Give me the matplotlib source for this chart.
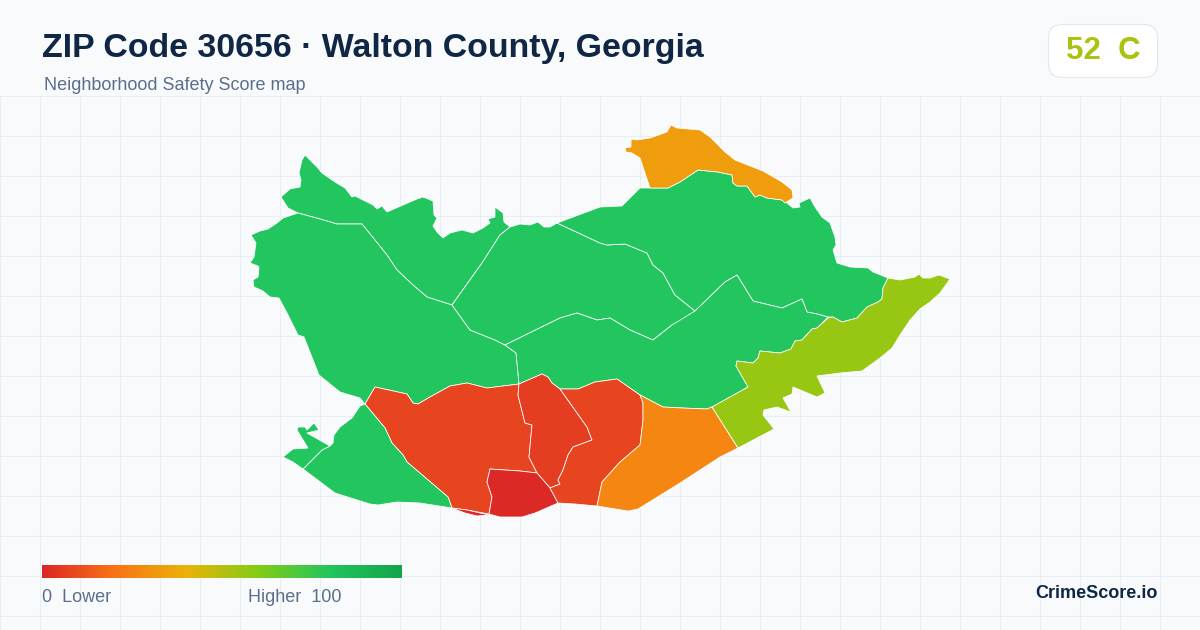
import matplotlib
matplotlib.use("Agg")
import matplotlib.pyplot as plt
import numpy as np
from matplotlib.colors import LinearSegmentedColormap
from matplotlib.patches import FancyBboxPatch, Polygon

plt.rcParams['font.family'] = ['Liberation Sans', 'DejaVu Sans']

TITLE = "ZIP Code 30656 · Walton County, Georgia"
SUBTITLE = "Neighborhood Safety Score map"
SCORE_TEXT = "52  C"
OVERALL_SCORE = 52
BRAND = "CrimeScore.io"
LEGEND_LOW = "0  Lower"
LEGEND_HIGH = "Higher  100"

SCALE_STOPS = [0.0, 0.2, 0.4, 0.6, 0.8, 1.0]
SCALE_COLORS = ["#dc2626", "#f97316", "#eab308", "#84cc16", "#22c55e", "#16a34a"]

# Tract outlines, with their scores
tract_a = [(281,197),(290,189),(300,187),(301,180),(299,173),(302,160),(305,155),(317,167),(322,173),(335,182),(345,188),(352,197),(355,196),(365,201),(373,205),(377,209),(382,206),(387,212),(403,205),(417,199),(423,197),(433,201),(434,215),(437,218),(433,226),(437,232),(443,238),(450,233),(462,230),(473,233),(483,228),(490,223),(488,219),(495,217),(495,207),(503,213),(504,222),(510,227),(500,235),(482,263),(452,305),(427,297),(413,285),(397,270),(387,255),(362,224),(337,224),(320,219),(298,213),(288,208)]
tract_b = [(298,213),(320,219),(337,224),(362,224),(387,255),(397,270),(413,285),(427,297),(452,305),(470,330),(495,340),(505,345),(516,353),(518,373),(519,384),(487,388),(467,383),(450,386),(430,397),(418,404),(413,403),(407,394),(375,387),(365,404),(360,398),(340,392),(319,375),(304,337),(298,335),(287,313),(279,298),(270,297),(263,291),(254,287),(253,280),(258,277),(259,268),(258,266),(250,263),(254,257),(256,243),(251,235),(260,231),(268,229),(277,223),(283,218)]
tract_c = [(452,305),(482,263),(500,235),(510,227),(520,224),(530,225),(538,222),(544,227),(550,227),(557,223),(600,243),(607,245),(625,244),(647,253),(653,265),(663,273),(675,295),(695,311),(690,317),(672,325),(653,340),(630,330),(610,318),(597,320),(577,313),(560,318),(505,345),(495,340),(470,330)]
tract_d = [(557,223),(600,207),(622,206),(640,188),(650,188),(668,188),(680,182),(698,170),(718,172),(732,175),(733,183),(737,186),(747,186),(755,197),(760,195),(767,198),(782,200),(787,203),(793,208),(800,207),(799,203),(810,198),(815,207),(822,217),(830,223),(835,237),(836,245),(833,250),(837,263),(850,267),(868,268),(873,272),(888,278),(883,288),(882,299),(878,302),(867,307),(857,318),(842,322),(833,317),(828,317),(817,314),(807,312),(802,299),(782,308),(753,301),(737,275),(725,282),(695,311),(675,295),(663,273),(653,265),(647,253),(625,244),(607,245),(600,243)]
tract_e = [(505,345),(560,318),(577,313),(597,320),(610,318),(630,330),(653,340),(672,325),(695,311),(725,282),(737,275),(753,301),(782,308),(802,299),(807,312),(817,314),(828,317),(817,328),(812,329),(802,340),(795,341),(791,349),(780,353),(760,351),(758,358),(753,363),(737,361),(736,366),(748,387),(712,407),(707,409),(682,408),(663,407),(640,395),(617,379),(595,382),(578,389),(560,389),(552,383),(548,377),(542,374),(519,384),(518,373),(516,353)]
tract_f = [(365,404),(375,387),(407,394),(413,403),(418,404),(430,397),(450,386),(467,383),(487,388),(519,384),(518,395),(525,423),(532,425),(529,457),(537,473),(520,471),(490,469),(487,482),(492,497),(489,514),(467,510),(452,508),(448,497),(407,462),(403,455),(392,443),(385,428)]
tract_g = [(519,384),(542,374),(548,377),(552,383),(560,389),(587,427),(592,440),(573,447),(568,455),(563,470),(558,480),(560,484),(550,488),(537,473),(529,457),(532,425),(525,423),(518,395)]
tract_h = [(490,469),(520,471),(537,473),(550,488),(558,503),(535,513),(522,517),(500,517),(489,514),(492,497),(487,482)]
tract_h2 = [(452,508),(467,510),(489,515),(477,516),(465,513)]
tract_i = [(560,389),(578,389),(595,382),(617,379),(640,395),(643,403),(643,420),(640,445),(620,462),(602,482),(597,506),(575,504),(558,503),(550,488),(560,484),(558,480),(563,470),(568,455),(573,447),(592,440),(587,427)]
tract_j = [(640,395),(663,407),(682,408),(707,409),(712,407),(738,448),(720,457),(680,483),(638,509),(628,511),(597,506),(602,482),(620,462),(640,445),(643,420),(643,403)]
tract_k = [(888,278),(900,280),(915,277),(919,274),(923,278),(930,278),(939,275),(950,279),(940,293),(930,302),(920,309),(910,320),(900,335),(892,348),(880,358),(862,371),(840,373),(817,376),(825,393),(817,397),(793,387),(792,394),(783,398),(791,412),(777,407),(764,410),(763,415),(774,429),(738,448),(712,407),(748,387),(736,366),(737,361),(753,363),(758,358),(760,351),(780,353),(791,349),(795,341),(802,340),(812,329),(817,328),(828,318),(833,317),(842,322),(857,318),(867,307),(878,302),(882,299),(883,288)]
tract_l = [(365,404),(385,428),(392,443),(403,455),(407,462),(448,497),(452,508),(420,503),(397,502),(378,505),(370,504),(335,493),(327,487),(303,469),(322,450),(330,446),(333,443),(334,435),(340,427),(352,418),(360,406)]
tract_m = [(283,457),(293,449),(308,448),(297,430),(298,427),(305,427),(307,430),(314,423),(319,430),(307,433),(330,446),(322,450),(303,469),(293,462)]
tract_n = [(625,148),(631,147),(631,139),(637,140),(650,138),(667,132),(671,125),(677,128),(700,130),(710,137),(725,152),(735,160),(763,171),(782,182),(792,190),(793,198),(785,203),(782,200),(767,198),(760,195),(755,197),(747,186),(737,186),(733,183),(732,175),(718,172),(698,170),(680,182),(668,188),(650,188),(640,158),(632,153),(626,152)]

tracts = [tract_a, tract_b, tract_c, tract_d, tract_e, tract_f, tract_g, tract_h,
          tract_h2, tract_i, tract_j, tract_k, tract_l, tract_m, tract_n]
scores = [80, 80, 80, 80, 80, 8, 6, 1, 1, 8, 26, 56, 80, 80, 33]

grid_x = list(range(0, 1200, 40))
grid_y = list(range(96, 630, 40))

BG = "#f8fafc"
GRID = "#e8eef5"
cmap = LinearSegmentedColormap.from_list("safety", list(zip(SCALE_STOPS, SCALE_COLORS)))

fig = plt.figure(figsize=(12, 6.3), dpi=100, facecolor=BG)
ax = fig.add_axes([0, 0, 1, 1])
ax.set_xlim(0, 1200)
ax.set_ylim(630, 0)
ax.axis("off")

for gx in grid_x:
    ax.plot([gx, gx], [96, 630], color=GRID, lw=0.75, zorder=1)
for gy in grid_y:
    ax.plot([0, 1200], [gy, gy], color=GRID, lw=0.75, zorder=1)

for outline, score in zip(tracts, scores):
    ax.add_patch(Polygon(outline, closed=True, facecolor=cmap(score / 100),
                         edgecolor="#ffffff", lw=0.55, joinstyle="round", zorder=2))

ax.imshow(np.linspace(0, 1, 512)[None, :], cmap=cmap, aspect="auto",
          extent=(42, 402, 578, 565), zorder=3)
ax.set_xlim(0, 1200)
ax.set_ylim(630, 0)

ax.text(42, 49, TITLE, fontsize=24.4, fontweight="bold", color="#0f2744", va="center", ha="left", zorder=4)
ax.text(44, 85.5, SUBTITLE, fontsize=12.95, color="#5a6f8c", va="center", ha="left", zorder=4)

ax.add_patch(FancyBboxPatch((1048.5 + 14, 24.5 + 14), 109 - 28, 53 - 28,
                            boxstyle="round,pad=14,rounding_size=14",
                            facecolor="#ffffff", edgecolor="#e2e8f0", lw=0.8, zorder=3))
ax.text(1103, 51, SCORE_TEXT, fontsize=22.5, fontweight="bold", color=cmap(OVERALL_SCORE / 100),
        va="center", ha="center", zorder=4)

ax.text(42, 597, LEGEND_LOW, fontsize=12.95, color="#5a6f8c", va="center", ha="left", zorder=4)
ax.text(342, 597, LEGEND_HIGH, fontsize=12.95, color="#5a6f8c", va="center", ha="right", zorder=4)
ax.text(1158, 594, BRAND, fontsize=13, fontweight="bold", color="#0f2744", va="center", ha="right", zorder=4)

fig.savefig("out.png", dpi=100, facecolor=BG)
